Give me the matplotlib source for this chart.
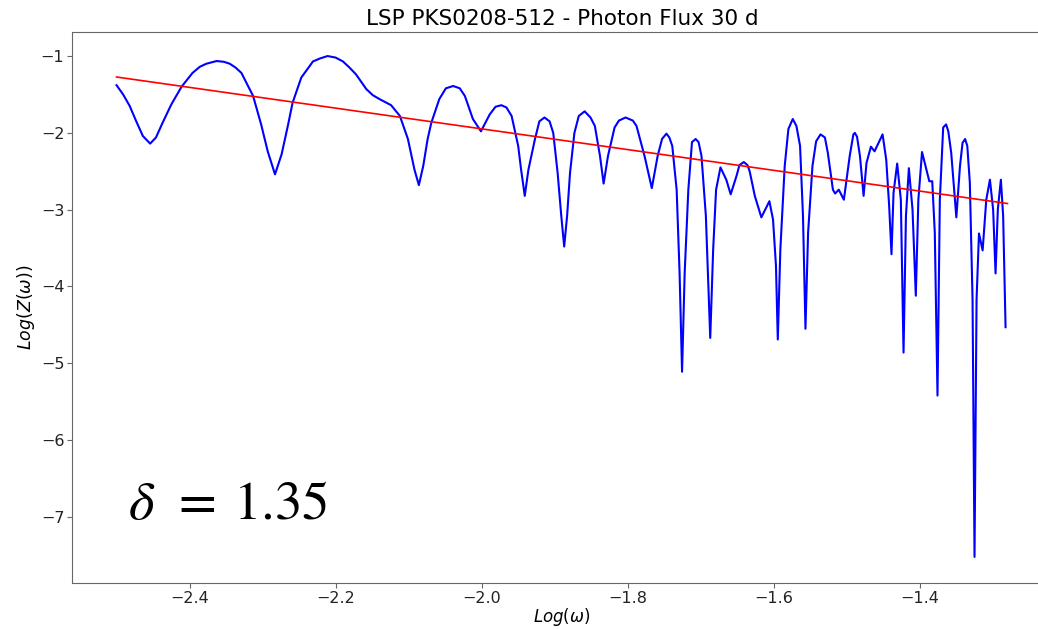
import matplotlib
matplotlib.use("Agg")
import matplotlib.pyplot as plt
import numpy as np

# Log(omega) values and Log(Z(omega)) values
log_omega = [
    -2.500, -2.491, -2.482, -2.473, -2.464, -2.454, -2.446, -2.437, -2.425, -2.411,
    -2.396, -2.386, -2.377, -2.363, -2.353, -2.345, -2.337, -2.329, -2.313, -2.302,
    -2.293, -2.283, -2.274, -2.265, -2.259, -2.247, -2.231, -2.221, -2.211, -2.200,
    -2.190, -2.181, -2.172, -2.158, -2.149, -2.140, -2.124, -2.112, -2.101, -2.092,
    -2.086, -2.080, -2.074, -2.069, -2.058, -2.049, -2.039, -2.030, -2.023, -2.012,
    -2.001, -1.989, -1.981, -1.973, -1.966, -1.959, -1.950, -1.946, -1.941, -1.936,
    -1.927, -1.921, -1.914, -1.907, -1.902, -1.896, -1.891, -1.887, -1.883, -1.879,
    -1.873, -1.867, -1.859, -1.851, -1.845, -1.838, -1.833, -1.827, -1.818, -1.812,
    -1.803, -1.793, -1.788, -1.777, -1.767, -1.759, -1.753, -1.747, -1.743, -1.739,
    -1.733, -1.729, -1.7256, -1.722, -1.717, -1.712, -1.707, -1.703, -1.699, -1.693,
    -1.687, -1.683, -1.679, -1.673, -1.665, -1.659, -1.651, -1.647, -1.641, -1.636,
    -1.633, -1.626, -1.617, -1.606, -1.601, -1.597, -1.5945, -1.591, -1.585, -1.580,
    -1.574, -1.569, -1.564, -1.560, -1.5566, -1.553, -1.547, -1.542, -1.536, -1.530,
    -1.526, -1.519, -1.516, -1.511, -1.504, -1.496, -1.491, -1.489, -1.486, -1.482,
    -1.477, -1.473, -1.467, -1.462, -1.451, -1.446, -1.442, -1.4388, -1.436, -1.431,
    -1.426, -1.4223, -1.419, -1.415, -1.410, -1.4055, -1.402, -1.397, -1.391, -1.387,
    -1.383, -1.3795, -1.3758, -1.3726, -1.368, -1.364, -1.361, -1.357, -1.350, -1.345,
    -1.3415, -1.338, -1.335, -1.3315, -1.3278, -1.3251, -1.3223, -1.319, -1.314, -1.309,
    -1.304, -1.2996, -1.2963, -1.2932, -1.289, -1.2859, -1.2826,
]
log_z = [
    -1.38, -1.50, -1.65, -1.85, -2.04, -2.14, -2.06, -1.87, -1.63, -1.40,
    -1.22, -1.14, -1.10, -1.065, -1.075, -1.10, -1.15, -1.22, -1.52, -1.89,
    -2.24, -2.54, -2.28, -1.89, -1.61, -1.28, -1.07, -1.03, -1.00, -1.02,
    -1.07, -1.15, -1.24, -1.43, -1.51, -1.56, -1.64, -1.78, -2.08, -2.48,
    -2.68, -2.43, -2.08, -1.87, -1.56, -1.42, -1.39, -1.42, -1.52, -1.82,
    -1.98, -1.76, -1.66, -1.64, -1.67, -1.78, -2.17, -2.48, -2.82, -2.48,
    -2.08, -1.85, -1.80, -1.85, -2.00, -2.52, -3.08, -3.48, -3.08, -2.52,
    -2.00, -1.78, -1.72, -1.80, -1.91, -2.30, -2.66, -2.30, -1.93, -1.84,
    -1.80, -1.84, -1.91, -2.30, -2.72, -2.30, -2.08, -2.01, -2.06, -2.17,
    -2.74, -3.82, -5.11, -3.82, -2.74, -2.12, -2.08, -2.12, -2.30, -3.08,
    -4.67, -3.52, -2.74, -2.45, -2.61, -2.80, -2.56, -2.42, -2.38, -2.42,
    -2.50, -2.82, -3.10, -2.89, -3.13, -3.73, -4.69, -3.52, -2.43, -1.95,
    -1.82, -1.91, -2.17, -3.08, -4.55, -3.30, -2.43, -2.11, -2.02, -2.06,
    -2.26, -2.74, -2.79, -2.74, -2.87, -2.30, -2.02, -2.00, -2.05, -2.30,
    -2.82, -2.39, -2.18, -2.24, -2.02, -2.35, -2.95, -3.58, -2.78, -2.40,
    -2.87, -4.86, -3.08, -2.46, -3.00, -4.12, -2.87, -2.25, -2.48, -2.63,
    -2.63, -3.30, -5.42, -2.87, -1.93, -1.89, -1.98, -2.26, -3.10, -2.43,
    -2.13, -2.08, -2.17, -2.65, -4.17, -7.52, -4.17, -3.31, -3.53, -2.87,
    -2.61, -3.00, -3.83, -3.00, -2.61, -3.08, -4.53,
]

# Power-law fit: Log(Z) = -delta * Log(omega) + intercept
delta = 1.35
intercept = -4.648
fit_range = [-2.50, -1.28]

title = "LSP PKS0208-512 - Photon Flux 30 d"
x_label = r"$Log(\omega)$"
y_label = r"$Log(Z(\omega))$"
x_ticks = [-2.4, -2.2, -2.0, -1.8, -1.6, -1.4]
y_ticks = [-1, -2, -3, -4, -5, -6, -7]

fig = plt.figure(figsize=(10.38, 6.29), dpi=100)
ax = fig.add_axes([72 / 1038, 46 / 629, 980 / 1038, 551 / 629])

ax.plot(log_omega, log_z, color="#0000ff", lw=1.5)
fx = np.array(fit_range)
ax.plot(fx, -delta * fx + intercept, color="#ff0000", lw=1.2)

ax.set_xlim(-2.561, -1.219)
ax.set_ylim(-7.86, -0.687)
ax.set_xticks(x_ticks)
ax.set_yticks(y_ticks)
ax.tick_params(labelsize=11.5, colors="#222222", pad=2)
for s in ax.spines.values():
    s.set_color("#666666")
ax.tick_params(color="#666666")

ax.set_title(title, fontsize=15.5, pad=5)
ax.set_xlabel(x_label, fontsize=12, labelpad=0)
ax.set_ylabel(y_label, fontsize=12.5, labelpad=3)

fig.text(128 / 1038, (629 - 519) / 629, r"$\delta\;\,=\:1.35$", fontsize=39.5,
         math_fontfamily="stix", va="baseline", ha="left")

fig.savefig("out.png", dpi=100)
